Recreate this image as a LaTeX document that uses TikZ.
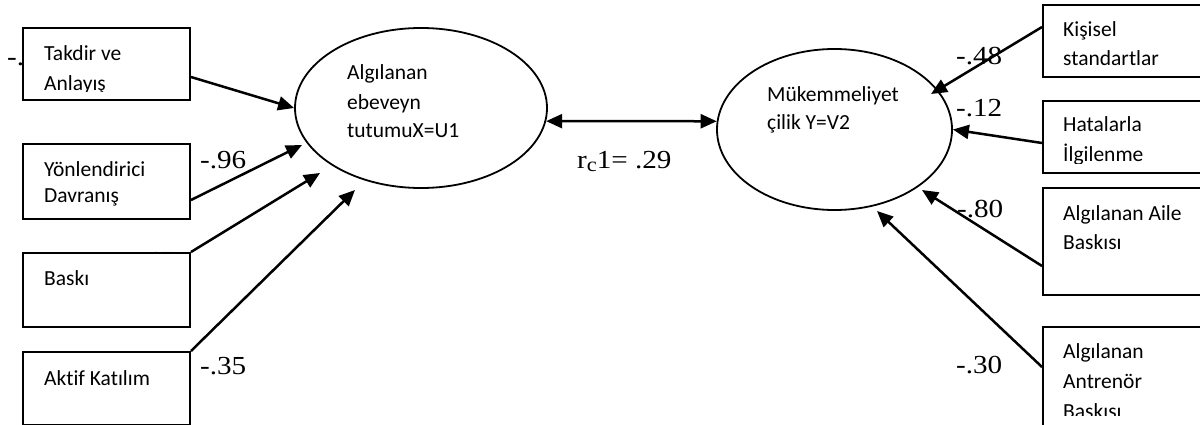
\documentclass[tikz,border=0pt]{standalone}
\usepackage{fontspec}
\setmainfont[Ligatures={NoCommon}]{Carlito}
\newfontfamily\numfont[FakeStretch=1.12]{Liberation Serif}
\usetikzlibrary{arrows.meta,calc,shapes.geometric}
\tikzset{
  box/.style={draw, line width=2pt, fill=white, rectangle, inner sep=0pt},
  lat/.style={draw, ellipse, line width=1.8pt, inner sep=0pt},
  txt/.style={anchor=base west, inner sep=0pt, font=\fontsize{21.5}{25}\selectfont},
  coef/.style={anchor=base west, inner sep=0pt, font=\numfont\fontsize{26}{30}\selectfont},
  arr/.style={line width=2.5pt, -{Triangle[length=16pt,width=14pt]}},
  dbl/.style={line width=2.5pt, {Triangle[length=16pt,width=14pt]}-{Triangle[length=16pt,width=14pt]}},
}
\begin{document}
\begin{tikzpicture}[x=1pt,y=-1pt]
\useasboundingbox (0,0) rectangle (1200,425);
% partly hidden coefficient labels
\node[coef] (h1) at (7,66) {-.};
\node[coef] (h2) at (128,269) {-.47};
% visible coefficient labels
\node[coef] (c96) at (200,168) {-.96};
\node[coef] (c35) at (200,374) {-.35};
\node[coef] (c48) at (956,65) {-.48};
\node[coef] (c12) at (956,117) {-.12};
\node[coef] (c80) at (957,218) {-.80};
\node[coef] (c30) at (956,373) {-.30};
\node[coef] (rc) at (577,168) {r{\fontsize{20}{20}\selectfont\raisebox{-3pt}{c}}1= .29};
% left boxes
\node[box, minimum width=167, minimum height=72] (b1) at (106.5,64) {};
\node[box, minimum width=167, minimum height=75] (b2) at (106.5,181.5) {};
\node[box, minimum width=167, minimum height=74] (b3) at (106.5,290) {};
\node[box, minimum width=167, minimum height=72.5] (b4) at (106.5,388.25) {};
% right boxes
\node[box, minimum width=170, minimum height=72] (r1) at (1128,41) {};
\node[box, minimum width=170, minimum height=72] (r2) at (1128,137) {};
\node[box, minimum width=170, minimum height=107] (r3) at (1128,241.5) {};
\node[box, minimum width=170, minimum height=110] (r4) at (1128,382) {};
% box texts
\begin{scope}
  \clip (b1.north west) rectangle (190,91.5);
  \node[txt] (t1a) at (44,61) {Takdir ve};
  \node[txt] (t1b) at (44,91) {Anlayış};
\end{scope}
\begin{scope}
  \clip (b2.north west) rectangle (190,208);
  \node[txt] (t2a) at (44,177) {Yönlendirici};
  \node[txt] (t2b) at (44,203) {Davranış};
\end{scope}
\node[txt] (t3) at (44,285) {Baskı};
\node[txt] (t4) at (44,385) {Aktif Katılım};
\node[txt] (u1) at (1063,37) {Kişisel};
\node[txt] (u2) at (1063,66) {standartlar};
\begin{scope}
  \clip (r2.north west) rectangle (1200,163.5);
  \node[txt] (u3) at (1063,132) {Hatalarla};
  \node[txt] (u4) at (1063,162) {İlgilenme};
\end{scope}
\node[txt] (u5) at (1063,220) {Algılanan Aile};
\node[txt] (u6) at (1063,249) {Baskısı};
\begin{scope}
  \clip (r4.north west) rectangle (1200,415);
  \node[txt] (u7) at (1063,358) {Algılanan};
  \node[txt] (u8) at (1063,388) {Antrenör};
  \node[txt] (u9) at (1063,418) {Baskısı};
\end{scope}
% latent variables
\node[lat, minimum width=252, minimum height=160] (U) at (421,108) {};
\node[lat, minimum width=235, minimum height=161] (V) at (834.5,129.5) {};
\node[txt] (e1) at (347,80) {Algılanan};
\node[txt] (e2) at (347,110) {ebeveyn};
\node[txt] (e3) at (347,138) {tutumuX=U1};
\node[txt] (f1) at (767,102) {Mükemmeliyet};
\node[txt] (f2) at (767,130) {çilik Y=V2};
% connector endpoints
\coordinate (s1) at ($(b1.east)+(0,13)$);
\coordinate (s2) at ($(b2.east)+(0,18.5)$);
\coordinate (p2) at (302,145);
\coordinate (p3) at (320,173);
\coordinate (p4) at (355,190);
\coordinate (q1s) at ($(r1.north west)+(0,23)$);
\coordinate (q1) at (931,94);
\coordinate (q2s) at ($(r2.north west)+(0,43)$);
\coordinate (q3s) at ($(r3.north west)+(0,79)$);
\coordinate (q3) at (922,190);
\coordinate (q4s) at ($(r4.north west)+(0,41)$);
\coordinate (q4) at (877,211);
% arrows
\draw[arr] (s1) -- (U.west);
\draw[arr] (s2) -- (p2);
\draw[arr] (b3.north east) -- (p3);
\draw[arr] (b4.north east) -- (p4);
\draw[arr] (q1s) -- (q1);
\draw[arr] (q2s) -- (V.east);
\draw[arr] (q3s) -- (q3);
\draw[arr] (q4s) -- (q4);
\draw[dbl] (U.-6.5) -- (V.176.3);
\end{tikzpicture}
\end{document}
